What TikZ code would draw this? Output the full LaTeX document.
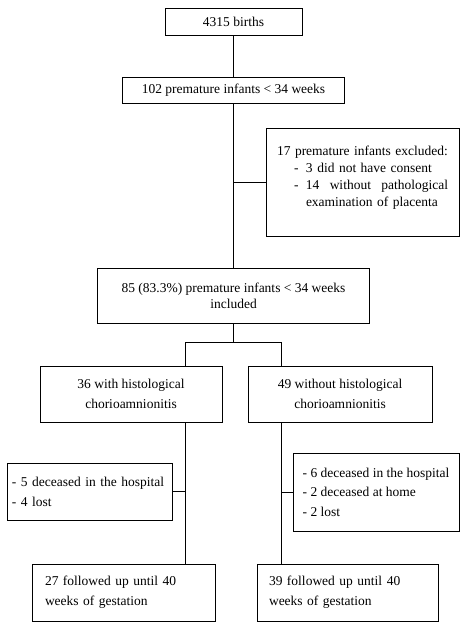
\documentclass[tikz,border=0pt]{standalone}
\usepackage{fontspec}
\setmainfont{Liberation Serif}
\usetikzlibrary{calc}
\tikzset{
  box/.style = {draw, line width=0.8pt, inner sep=0pt, align=center,
    font=\fontsize{13.5}{17}\selectfont},
  link/.style = {line width=0.8pt}
}
\begin{document}
\begin{tikzpicture}[x=1pt,y=-1pt]
  \useasboundingbox (0,0) rectangle (467,631);

  % main column
  \node [box, minimum width=137, minimum height=27] (births) at (233.5,21.5) {4315 births};
  \node [box, minimum width=222, minimum height=26] (prem) at (233.5,90) {102 premature infants < 34 weeks};
  \node [box, minimum width=193, minimum height=108, text width=171, align=left,
         font=\fontsize{13.5}{16.8}\selectfont, text depth=61.6pt] (excl) at (362.5,182)
        {17 premature infants excluded:\\
         \hspace*{17pt}\makebox[12pt][l]{-}3 did not have consent\\
         \hspace*{17pt}\makebox[12pt][l]{-}\makebox[142pt][l]{14\hfill without\hfill pathological}\\
         \hspace*{29pt}examination of placenta};
  \node [box, minimum width=272, minimum height=55, font=\fontsize{13.5}{15.7}\selectfont]
        (incl) at (233.5,295.5) {85 (83.3\%) premature infants < 34 weeks\\ included};

  % two groups
  \coordinate (split)  at (233.5,342);
  \coordinate (splitL) at (185,342);
  \coordinate (splitR) at (281,342);
  \node [box, minimum width=182, minimum height=56, font=\fontsize{13.5}{19.3}\selectfont]
        (with) at (131,394) {36 with histological\\ chorioamnionitis};
  \node [box, minimum width=184, minimum height=56, font=\fontsize{13.5}{19.3}\selectfont]
        (without) at (340,394) {49 without histological\\ chorioamnionitis};

  % losses
  \node [box, minimum width=165, minimum height=57, text width=155, align=left,
         font=\fontsize{13.5}{20}\selectfont] (lossL) at (89.5,491.5)
        {- 5 deceased in the hospital\\ - 4 lost};
  \node [box, minimum width=166, minimum height=78, align=left,
         font=\fontsize{13.5}{19.5}\selectfont] (lossR) at (376,492)
        {- 6 deceased in the hospital\\ - 2 deceased at home\\ - 2 lost};

  % follow up
  \node [box, minimum width=183, minimum height=57, text width=157, align=left,
         font=\fontsize{13.5}{20}\selectfont] (fupL) at (123.5,592.5)
        {27 followed up until 40\\ weeks of gestation};
  \node [box, minimum width=181, minimum height=57, text width=157, align=left,
         font=\fontsize{13.5}{20}\selectfont] (fupR) at (347.5,592.5)
        {39 followed up until 40\\ weeks of gestation};

  % connectors
  \draw [link] (births) -- (prem);
  \draw [link] (prem) -- (incl);
  \draw [link] (excl.west) -- (excl.west -| prem);
  \draw [link] (incl) -- (split);
  \draw [link] (splitL) -- (splitR);
  \draw [link] (splitL) -- (splitL |- with.north);
  \draw [link] (splitR) -- (splitR |- without.north);
  \draw [link] (with.south -| splitL) -- (fupL.north -| splitL);
  \draw [link] (without.south -| splitR) -- (fupR.north -| splitR);
  \draw [link] (lossL.east) -- (lossL.east -| splitL);
  \draw [link] (lossR.west) -- (lossR.west -| splitR);
\end{tikzpicture}
\end{document}
